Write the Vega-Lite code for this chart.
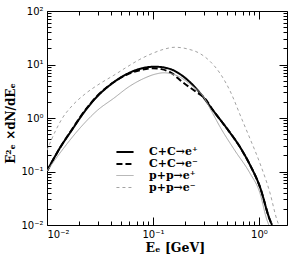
{
  "$schema": "https://vega.github.io/schema/vega-lite/v6.json",
  "width": 240,
  "height": 214,
  "autosize": {"type": "none"},
  "padding": {"left": 47, "top": 11, "right": 14, "bottom": 33},
  "background": "white",
  "config": {
    "view": {"stroke": "black", "strokeWidth": 1},
    "axis": {"domain": false, "grid": false, "tickColor": "black", "tickWidth": 1, "labelFont": "DejaVu Sans", "labelFontSize": 10, "labelColor": "black", "titleColor": "black"},
    "legend": {"orient": "none", "legendX": 71, "legendY": 134, "title": null, "symbolType": "M-1.5,0H1.5", "symbolSize": 130, "labelFont": "DejaVu Serif", "labelFontWeight": "bold", "labelFontSize": 11, "labelOffset": 17, "rowPadding": 0, "padding": 0, "labelColor": "black"}
  },
  "data": {"values": [
    {"s": "C+C→e⁺", "E": 0.0100, "F": 0.102},
    {"s": "C+C→e⁺", "E": 0.0133, "F": 0.28},
    {"s": "C+C→e⁺", "E": 0.0172, "F": 0.60},
    {"s": "C+C→e⁺", "E": 0.0228, "F": 1.35},
    {"s": "C+C→e⁺", "E": 0.0296, "F": 2.5},
    {"s": "C+C→e⁺", "E": 0.0410, "F": 4.4},
    {"s": "C+C→e⁺", "E": 0.0569, "F": 6.65},
    {"s": "C+C→e⁺", "E": 0.0787, "F": 8.5},
    {"s": "C+C→e⁺", "E": 0.104, "F": 9.1},
    {"s": "C+C→e⁺", "E": 0.138, "F": 8.5},
    {"s": "C+C→e⁺", "E": 0.180, "F": 6.6},
    {"s": "C+C→e⁺", "E": 0.223, "F": 4.7},
    {"s": "C+C→e⁺", "E": 0.278, "F": 2.93},
    {"s": "C+C→e⁺", "E": 0.367, "F": 1.41},
    {"s": "C+C→e⁺", "E": 0.51, "F": 0.60},
    {"s": "C+C→e⁺", "E": 0.66, "F": 0.29},
    {"s": "C+C→e⁺", "E": 0.82, "F": 0.135},
    {"s": "C+C→e⁺", "E": 1.02, "F": 0.052},
    {"s": "C+C→e⁺", "E": 1.27, "F": 0.0124},
    {"s": "C+C→e⁺", "E": 1.33, "F": 0.010},
    {"s": "C+C→e⁻", "E": 0.0100, "F": 0.102},
    {"s": "C+C→e⁻", "E": 0.0133, "F": 0.28},
    {"s": "C+C→e⁻", "E": 0.0172, "F": 0.61},
    {"s": "C+C→e⁻", "E": 0.0228, "F": 1.38},
    {"s": "C+C→e⁻", "E": 0.0296, "F": 2.55},
    {"s": "C+C→e⁻", "E": 0.0410, "F": 4.45},
    {"s": "C+C→e⁻", "E": 0.0569, "F": 6.5},
    {"s": "C+C→e⁻", "E": 0.0787, "F": 8.0},
    {"s": "C+C→e⁻", "E": 0.100, "F": 8.5},
    {"s": "C+C→e⁻", "E": 0.120, "F": 8.2},
    {"s": "C+C→e⁻", "E": 0.150, "F": 6.9},
    {"s": "C+C→e⁻", "E": 0.190, "F": 4.7},
    {"s": "C+C→e⁻", "E": 0.260, "F": 3.0},
    {"s": "C+C→e⁻", "E": 0.310, "F": 2.3},
    {"s": "C+C→e⁻", "E": 0.367, "F": 1.41},
    {"s": "C+C→e⁻", "E": 0.51, "F": 0.60},
    {"s": "C+C→e⁻", "E": 0.66, "F": 0.29},
    {"s": "C+C→e⁻", "E": 0.82, "F": 0.135},
    {"s": "C+C→e⁻", "E": 1.02, "F": 0.052},
    {"s": "C+C→e⁻", "E": 1.27, "F": 0.0124},
    {"s": "C+C→e⁻", "E": 1.33, "F": 0.010},
    {"s": "p+p→e⁺", "E": 0.0100, "F": 0.102},
    {"s": "p+p→e⁺", "E": 0.0143, "F": 0.27},
    {"s": "p+p→e⁺", "E": 0.0205, "F": 0.65},
    {"s": "p+p→e⁺", "E": 0.0300, "F": 1.40},
    {"s": "p+p→e⁺", "E": 0.0428, "F": 2.35},
    {"s": "p+p→e⁺", "E": 0.0600, "F": 3.9},
    {"s": "p+p→e⁺", "E": 0.0822, "F": 5.5},
    {"s": "p+p→e⁺", "E": 0.105, "F": 6.6},
    {"s": "p+p→e⁺", "E": 0.127, "F": 7.0},
    {"s": "p+p→e⁺", "E": 0.150, "F": 6.7},
    {"s": "p+p→e⁺", "E": 0.180, "F": 5.8},
    {"s": "p+p→e⁺", "E": 0.230, "F": 4.1},
    {"s": "p+p→e⁺", "E": 0.295, "F": 2.6},
    {"s": "p+p→e⁺", "E": 0.360, "F": 1.3},
    {"s": "p+p→e⁺", "E": 0.43, "F": 0.68},
    {"s": "p+p→e⁺", "E": 0.59, "F": 0.25},
    {"s": "p+p→e⁺", "E": 0.82, "F": 0.094},
    {"s": "p+p→e⁺", "E": 1.02, "F": 0.040},
    {"s": "p+p→e⁺", "E": 1.19, "F": 0.0124},
    {"s": "p+p→e⁺", "E": 1.24, "F": 0.010},
    {"s": "p+p→e⁻", "E": 0.0100, "F": 0.25},
    {"s": "p+p→e⁻", "E": 0.0119, "F": 0.55},
    {"s": "p+p→e⁻", "E": 0.0139, "F": 0.98},
    {"s": "p+p→e⁻", "E": 0.0172, "F": 1.68},
    {"s": "p+p→e⁻", "E": 0.0228, "F": 2.8},
    {"s": "p+p→e⁻", "E": 0.0316, "F": 4.4},
    {"s": "p+p→e⁻", "E": 0.0428, "F": 6.3},
    {"s": "p+p→e⁻", "E": 0.0569, "F": 9.0},
    {"s": "p+p→e⁻", "E": 0.0753, "F": 12.5},
    {"s": "p+p→e⁻", "E": 0.098, "F": 16.0},
    {"s": "p+p→e⁻", "E": 0.127, "F": 19.3},
    {"s": "p+p→e⁻", "E": 0.161, "F": 21.0},
    {"s": "p+p→e⁻", "E": 0.213, "F": 19.5},
    {"s": "p+p→e⁻", "E": 0.278, "F": 16.0},
    {"s": "p+p→e⁻", "E": 0.345, "F": 11.5},
    {"s": "p+p→e⁻", "E": 0.43, "F": 6.8},
    {"s": "p+p→e⁻", "E": 0.53, "F": 3.3},
    {"s": "p+p→e⁻", "E": 0.69, "F": 0.95},
    {"s": "p+p→e⁻", "E": 0.82, "F": 0.42},
    {"s": "p+p→e⁻", "E": 1.02, "F": 0.144},
    {"s": "p+p→e⁻", "E": 1.27, "F": 0.040},
    {"s": "p+p→e⁻", "E": 1.48, "F": 0.0124},
    {"s": "p+p→e⁻", "E": 1.54, "F": 0.010}
  ]},
  "layer": [
    {
      "mark": {"type": "line", "clip": true, "interpolate": "monotone"},
      "encoding": {
        "x": {"field": "E", "type": "quantitative", "scale": {"type": "log", "domain": [0.01, 1.84], "nice": false},
              "axis": {"orient": "bottom", "values": [0.01, 0.1, 1], "tickSize": -8, "labelPadding": 12,
                       "labelExpr": "datum.value < 0.05 ? '10⁻²' : datum.value < 0.5 ? '10⁻¹' : '10⁰'",
                       "title": "Eₑ [GeV]", "titleFont": "DejaVu Serif", "titleFontWeight": "bold", "titleFontSize": 12.5, "titlePadding": 2, "titleAlign": "left", "titleAnchor": "start", "titleX": 98}},
        "y": {"field": "F", "type": "quantitative", "scale": {"type": "log", "domain": [0.01, 100], "nice": false},
              "axis": {"orient": "left", "values": [0.01, 0.1, 1, 10, 100], "tickSize": -8, "labelPadding": 12,
                       "labelExpr": "datum.value < 0.05 ? '10⁻²' : datum.value < 0.5 ? '10⁻¹' : datum.value < 5 ? '10⁰' : datum.value < 50 ? '10¹' : '10²'",
                       "title": "E²ₑ ×dN/dEₑ", "titleFont": "DejaVu Serif", "titleFontWeight": "bold", "titleFontSize": 12, "titlePadding": 3, "titleY": 112}},
        "color": {"field": "s", "type": "nominal", "scale": {"domain": ["C+C→e⁺", "C+C→e⁻", "p+p→e⁺", "p+p→e⁻"], "range": ["#000000", "#000000", "#a3a3a3", "#a3a3a3"]}},
        "strokeDash": {"field": "s", "type": "nominal", "scale": {"domain": ["C+C→e⁺", "C+C→e⁻", "p+p→e⁺", "p+p→e⁻"], "range": [[1, 0], [6, 3], [1, 0], [3, 3]]}},
        "strokeWidth": {"field": "s", "type": "nominal", "scale": {"type": "ordinal", "domain": ["C+C→e⁺", "C+C→e⁻", "p+p→e⁺", "p+p→e⁻"], "range": [2, 2, 1, 1]}},
        "order": {"field": "s", "sort": "descending"}
      }
    },
    {
      "mark": {"type": "point", "opacity": 0},
      "encoding": {
        "x": {"field": "E", "type": "quantitative", "axis": {"orient": "bottom", "values": [0.02,0.03,0.04,0.05,0.06,0.07,0.08,0.09,0.2,0.3,0.4,0.5,0.6,0.7,0.8,0.9], "tickSize": -4, "labels": false, "title": null}},
        "y": {"field": "F", "type": "quantitative", "axis": {"orient": "left", "values": [0.02,0.03,0.04,0.05,0.06,0.07,0.08,0.09,0.2,0.3,0.4,0.5,0.6,0.7,0.8,0.9,2,3,4,5,6,7,8,9,20,30,40,50,60,70,80,90], "tickSize": -4, "labels": false, "title": null}}
      }
    },
    {
      "mark": {"type": "point", "opacity": 0},
      "encoding": {
        "x": {"field": "E", "type": "quantitative", "axis": {"orient": "top", "values": [0.01, 0.1, 1], "tickSize": -8, "labels": false, "title": null}},
        "y": {"field": "F", "type": "quantitative", "axis": {"orient": "right", "values": [0.01, 0.1, 1, 10, 100], "tickSize": -8, "labels": false, "title": null}}
      }
    },
    {
      "mark": {"type": "point", "opacity": 0},
      "encoding": {
        "x": {"field": "E", "type": "quantitative", "axis": {"orient": "top", "values": [0.02,0.03,0.04,0.05,0.06,0.07,0.08,0.09,0.2,0.3,0.4,0.5,0.6,0.7,0.8,0.9], "tickSize": -4, "labels": false, "title": null}},
        "y": {"field": "F", "type": "quantitative", "axis": {"orient": "right", "values": [0.02,0.03,0.04,0.05,0.06,0.07,0.08,0.09,0.2,0.3,0.4,0.5,0.6,0.7,0.8,0.9,2,3,4,5,6,7,8,9,20,30,40,50,60,70,80,90], "tickSize": -4, "labels": false, "title": null}}
      }
    }
  ],
  "resolve": {"axis": {"x": "independent", "y": "independent"}}
}
